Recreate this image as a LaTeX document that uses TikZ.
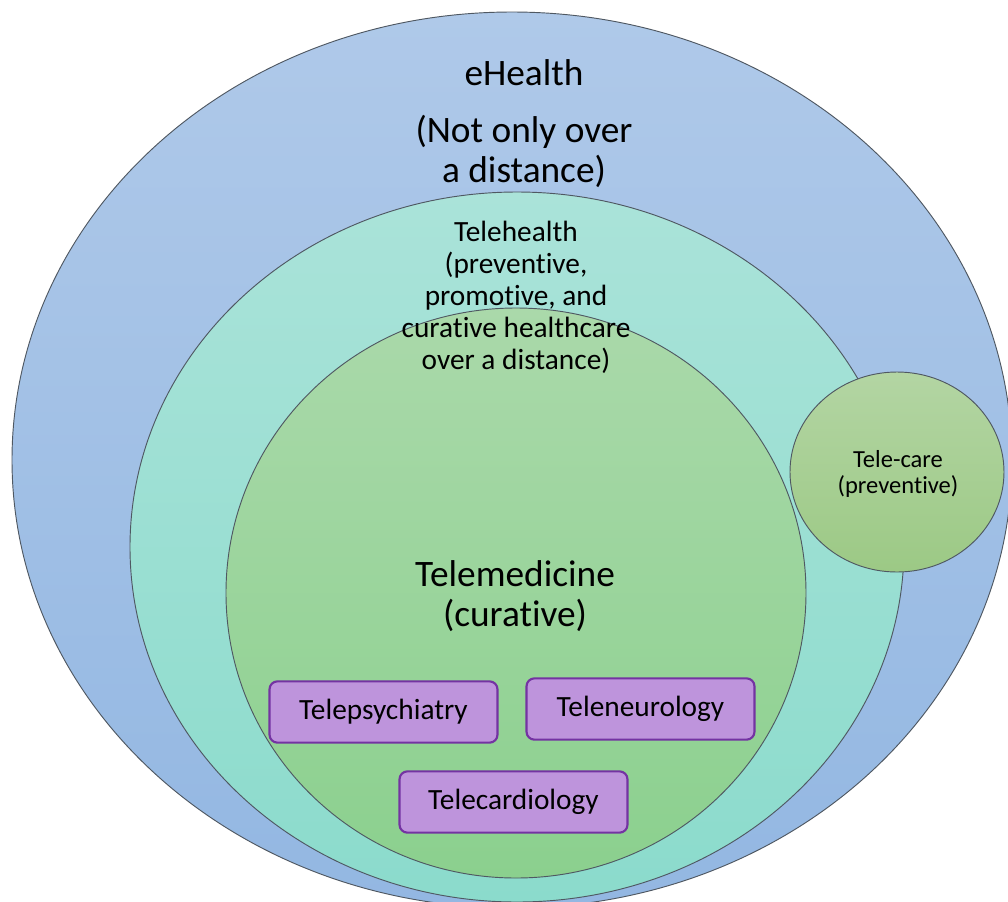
\documentclass[tikz,border=0pt]{standalone}
\usepackage{fontspec}
\setmainfont{Carlito}[Ligatures=NoCommon]
\usepackage{tikz}
\definecolor{ringline}{HTML}{4F5862}
\definecolor{ehealthTop}{HTML}{AFC9E9}
\definecolor{ehealthBot}{HTML}{93B7E2}
\definecolor{telehealthTop}{HTML}{AAE3D9}
\definecolor{telehealthBot}{HTML}{8BDBCC}
\definecolor{telemedTop}{HTML}{AAD9AA}
\definecolor{telemedBot}{HTML}{8BD08E}
\definecolor{telecareTop}{HTML}{B3D5A3}
\definecolor{telecareBot}{HTML}{9CC985}
\definecolor{subfill}{HTML}{BE94DC}
\definecolor{subline}{HTML}{7433A2}

\begin{document}
\begin{tikzpicture}[x=0.75pt,y=-0.75pt,
	ring/.style={draw=ringline,line width=0.7pt},
	label/.style={align=center,inner sep=0pt},
	subfield/.style={draw=subline,fill=subfill,line width=1.6pt,rounded corners=6pt,
		minimum width=171pt,minimum height=46pt,inner sep=0pt,font=\fontsize{22}{26}\selectfont}]
				\useasboundingbox (0,0) rectangle (1008,901);
				\draw[ring,top color=ehealthTop,bottom color=ehealthBot] (512,460) ellipse [x radius=500,y radius=448];
				\draw[ring,top color=telehealthTop,bottom color=telehealthBot] (517,547) ellipse [x radius=387,y radius=355];
				\draw[ring,top color=telecareTop,bottom color=telecareBot] (897,472) ellipse [x radius=107,y radius=100];
				\draw[ring,top color=telemedTop,bottom color=telemedBot] (516,593) ellipse [x radius=290,y radius=285];
				\node[label,anchor=base,font=\fontsize{28}{30}\selectfont] (ehealth) at (524,85) {eHealth};
				\node[label,anchor=base,font=\fontsize{28}{30}\selectfont] (ehealthsub) at (524,142) {(Not only over};
				\node[label,anchor=base,font=\fontsize{28}{30}\selectfont] (ehealthsub2) at (524,182) {a distance)};
				\node[label,font=\fontsize{22}{24}\selectfont] (telehealth) at (516,297) {Telehealth\\(preventive,\\promotive, and\\curative healthcare\\over a distance)};
				\node[label,font=\fontsize{28}{30}\selectfont] (telemed) at (515,596) {Telemedicine\\(curative)};
				\node[label,font=\fontsize{18.4}{19.5}\selectfont] (telecare) at (898,474) {Tele-care\\(preventive)};
				\node[subfield] (psych) at (383.5,712) {Telepsychiatry};
				\node[subfield] (neuro) at (640.5,709) {Teleneurology};
				\node[subfield] (cardio) at (513.5,802) {Telecardiology};
			\end{tikzpicture}
\end{document}
